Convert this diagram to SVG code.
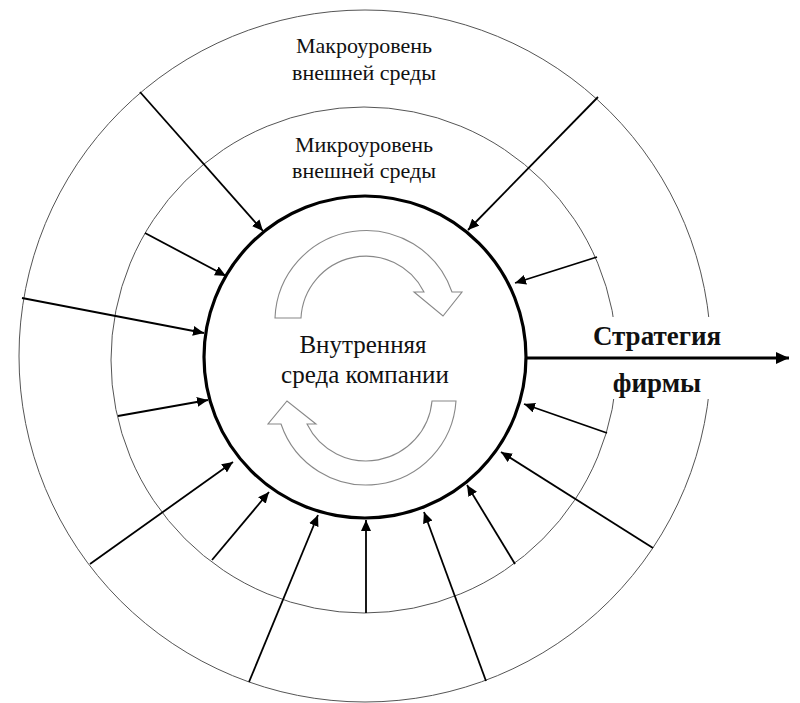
<svg xmlns="http://www.w3.org/2000/svg" width="800" height="703" viewBox="0 0 800 703">
<defs>
<style>
.ring{fill:none;stroke:#555;stroke-width:1}
.core{fill:none;stroke:#000;stroke-width:3.2}
.arr{stroke:#000;stroke-width:1.8;fill:none;marker-end:url(#ah)}
.swirl{fill:#fff;stroke:#888;stroke-width:1.1;stroke-linejoin:miter}
.t{font-family:"Liberation Serif","Times New Roman",serif;fill:#111;text-anchor:middle}
.lbl{font-size:22px}
.mid{font-size:25px}
.str{font-size:27px;font-weight:bold}
</style>
<marker id="ah" markerUnits="userSpaceOnUse" markerWidth="12" markerHeight="10" refX="11" refY="5" orient="auto">
<path d="M0,0 L11,5 L0,10 Z" fill="#000"/>
</marker>
<marker id="ah2" markerUnits="userSpaceOnUse" markerWidth="14" markerHeight="12" refX="13" refY="6" orient="auto">
<path d="M0,0 L13,6 L0,12 Z" fill="#000"/>
</marker>
</defs>
<rect width="800" height="703" fill="#fff"/>
<g id="macro">
<circle class="ring" cx="365" cy="356" r="346"/>
<text class="t lbl" x="364" y="53">Макроуровень</text>
<text class="t lbl" x="364" y="80">внешней среды</text>
</g>
<g id="micro">
<circle class="ring" cx="364" cy="360" r="253"/>
<text class="t lbl" x="364" y="152">Микроуровень</text>
<text class="t lbl" x="364" y="178">внешней среды</text>
</g>
<rect x="586" y="317" width="140" height="82" fill="#fff"/>
<g id="company">
<circle class="core" cx="365" cy="357" r="161"/>
<path class="swirl" d="M275,318 A91,91 0 0 1 452,292 L462,292 L443,316 L414,292 L424,292 A65,65 0 0 0 301,318 Z"/>
<path class="swirl" d="M456,401 A90,90 0 0 1 281,424 L268,424 L287,401 L316,424 L307,424 A66,66 0 0 0 432,401 Z"/>
<text class="t mid" x="363" y="353">Внутренняя</text>
<text class="t mid" x="365" y="383">среда компании</text>
</g>
<g id="connectors">
<line class="arr" x1="140" y1="92" x2="263" y2="231"/>
<line class="arr" x1="145" y1="233" x2="226" y2="276"/>
<line class="arr" x1="22" y1="298" x2="204" y2="333"/>
<line class="arr" x1="118" y1="416" x2="208" y2="400"/>
<line class="arr" x1="90" y1="564" x2="233" y2="462"/>
<line class="arr" x1="212" y1="560" x2="269" y2="492"/>
<line class="arr" x1="249" y1="682" x2="318" y2="515"/>
<line class="arr" x1="366" y1="613" x2="366" y2="520"/>
<line class="arr" x1="486" y1="681" x2="424" y2="512"/>
<line class="arr" x1="515" y1="564" x2="467" y2="485"/>
<line class="arr" x1="653" y1="548" x2="501" y2="452"/>
<line class="arr" x1="607" y1="433" x2="524" y2="404"/>
<line class="arr" x1="597" y1="257" x2="515" y2="283"/>
<line class="arr" x1="598" y1="97" x2="468" y2="230"/>
<line x1="527" y1="358" x2="789" y2="358" stroke="#000" stroke-width="3" marker-end="url(#ah2)"/>
</g>
<g id="strategy">
<text class="t str" x="657" y="345">Стратегия</text>
<text class="t str" x="657" y="392">фирмы</text>
</g>
</svg>
